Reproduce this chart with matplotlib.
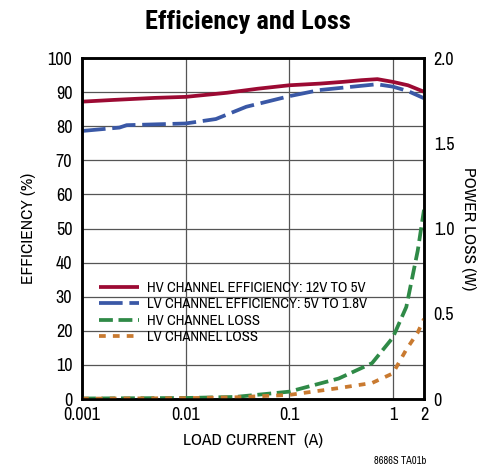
import matplotlib
matplotlib.use("Agg")
import matplotlib.pyplot as plt
import numpy as np

plt.rcParams['font.family'] = ['Archivo Narrow', 'DejaVu Sans']

# Data
hv_eff_x = [0.001, 0.002, 0.005, 0.01, 0.025, 0.05, 0.1, 0.2, 0.33, 0.5, 0.71, 1.0, 1.4, 2.0]
hv_eff_y = [87.2, 87.7, 88.3, 88.6, 89.8, 91.0, 92.0, 92.5, 93.0, 93.5, 93.8, 93.0, 92.0, 90.1]

lv_eff_x = [0.001, 0.0023, 0.0027, 0.01, 0.0196, 0.0385, 0.1, 0.196, 0.48, 0.7, 1.0, 1.4, 2.0]
lv_eff_y = [78.6, 79.6, 80.3, 80.8, 82.1, 85.7, 88.8, 90.6, 91.8, 92.3, 91.6, 90.3, 88.2]

hv_loss_x = [0.001, 0.01, 0.03, 0.1, 0.3, 0.63, 1.0, 1.35, 1.74, 2.0]
hv_loss_y = [0.003, 0.006, 0.012, 0.043, 0.12, 0.21, 0.36, 0.54, 0.87, 1.11]

lv_loss_x = [0.001, 0.01, 0.03, 0.1, 0.3, 0.63, 1.0, 1.35, 1.74, 2.0]
lv_loss_y = [0.002, 0.005, 0.01, 0.024, 0.064, 0.094, 0.15, 0.29, 0.39, 0.47]

x_ticks = [0.001, 0.01, 0.1, 1, 2]
x_ticklabels = ['0.001', '0.01', '0.1', '1', '2']
left_ticks = list(range(0, 101, 10))
right_ticks = [0, 0.5, 1.0, 1.5, 2.0]
right_ticklabels = ['0', '0.5', '1.0', '1.5', '2.0']

red = '#9c0a33'
blue = '#3a58a6'
green = '#2f8a47'
orange = '#c97a30'

fig = plt.figure(figsize=(4.95, 4.65), dpi=100)
ax = fig.add_axes([82/495, 1-399/465, (424-82)/495, (399-58)/465])
ax.set_xscale('log')
ax.set_xlim(0.001, 2)
ax.set_ylim(0, 100)
ax2 = ax.twinx()
ax2.set_ylim(0, 2.0)

l1, = ax.plot(hv_eff_x, hv_eff_y, color=red, lw=2.7, solid_capstyle='butt')
l2, = ax.plot(lv_eff_x, lv_eff_y, color=blue, lw=2.7, dashes=(6.3, 1.8))
l3, = ax2.plot(hv_loss_x, hv_loss_y, color=green, lw=2.7, dashes=(3.7, 1.5))
l4, = ax2.plot(lv_loss_x, lv_loss_y, color=orange, lw=2.7, dashes=(1.8, 1.9))

ax.set_xticks(x_ticks)
ax.set_xticklabels(x_ticklabels)
ax.xaxis.set_minor_locator(matplotlib.ticker.NullLocator())
ax.set_yticks(left_ticks)
ax2.set_yticks(right_ticks)
ax2.set_yticklabels(right_ticklabels)

ax.grid(True, which='major', color='#555555', lw=0.9)
for a in (ax, ax2):
    a.tick_params(length=0, labelsize=13, pad=7)
    for s in a.spines.values():
        s.set_linewidth(1.8)
ax.tick_params(axis='x', pad=6)

ax.set_ylabel('EFFICIENCY (%)', fontsize=12.5, labelpad=8)
ax2.set_ylabel('POWER LOSS (W)', fontsize=12.5, rotation=-90, labelpad=16)
ax.set_xlabel('LOAD CURRENT  (A)', fontsize=12.5, labelpad=7)

fig.text(0.5, 1-22/465, 'Efficiency and Loss', ha='center', va='center',
         fontsize=19, fontweight='bold', family=['Roboto Condensed', 'DejaVu Sans'])
fig.text(400/495, 1-461/465, '8686S TA01b', ha='center', va='center', fontsize=7.5)

leg = ax2.legend([l1, l2, l3, l4],
                 ['HV CHANNEL EFFICIENCY: 12V TO 5V',
                  'LV CHANNEL EFFICIENCY: 5V TO 1.8V',
                  'HV CHANNEL LOSS', 'LV CHANNEL LOSS'],
                 loc='upper left', bbox_to_anchor=(0.032, 0.364), frameon=False,
                 fontsize=10.6, handlelength=2.7, labelspacing=0.17, handletextpad=0.6,
                 borderaxespad=0)

fig.savefig('out.png', dpi=100)
